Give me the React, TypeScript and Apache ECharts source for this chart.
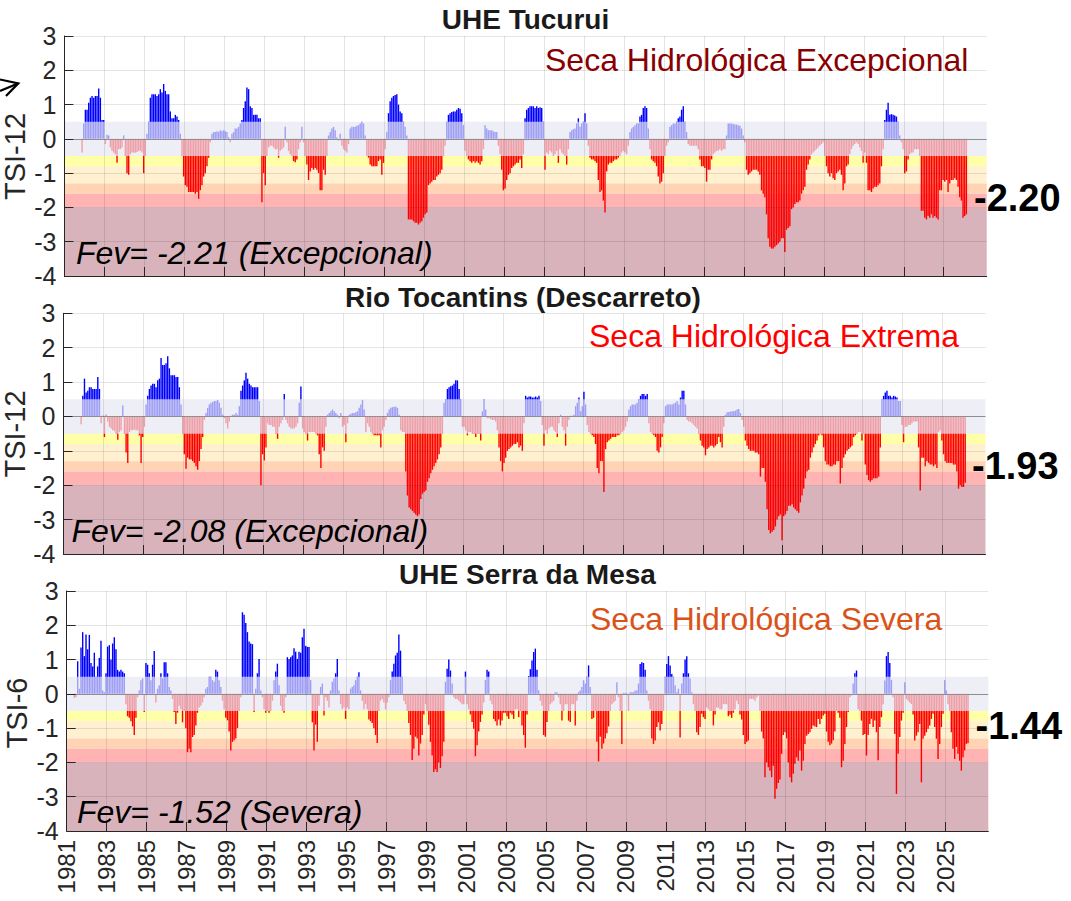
import React, { useEffect, useRef } from 'react';
import * as echarts from 'echarts';

const START_YEAR = 1981;
const YEAR_TICKS = [1981, 1983, 1985, 1987, 1989, 1991, 1993, 1995, 1997, 1999, 2001, 2003, 2005, 2007, 2009, 2011, 2013, 2015, 2017, 2019, 2021, 2023, 2025];
const Y_MIN = -4;
const Y_MAX = 3;

// Monthly TSI values, Jan 1981 .. Feb 2026 (null = not available)
const tucurui: (number | null)[] = [
  null, null, null, null, null, null, null, null, null, null, -0.4, 0.45,
  0.85, 0.85, 1.05, 1.2, 1.25, 1.2, 1.25, 1.25, 1.47, 1.2, 0.55, 0.55,
  -0.15, 0.12, 0.1, -0.25, -0.35, -0.4, -0.45, -0.7, -0.3, -0.3, -0.25, 0.1,
  -0.5, -1.0, -1.05, -0.45, -0.4, -0.4, -0.4, -0.38, -0.35, -0.35, -0.4, -1.0,
  -0.5, 0.15, 0.5, 1.2, 1.3, 1.3, 1.3, 1.25, 1.3, 1.45, 1.35, 1.6,
  1.4, 1.3, 1.3, 0.8, 0.6, 0.6, 0.7, 0.65, 0.55, 0.15, -0.5, -1.1,
  -1.35, -1.4, -1.55, -1.55, -1.55, -1.55, -1.6, -1.55, -1.75, -1.5, -1.35, -1.1,
  -1.0, -0.8, -0.55, -0.1, 0.15, 0.2, 0.2, 0.22, 0.2, 0.25, 0.22, 0.25,
  0.22, 0.2, 0.05, -0.1, 0.15, 0.2, 0.3, 0.3, 0.35, 0.45, 0.55, 0.9,
  1.1, 1.5, 1.45, 0.95, 0.9, 0.7, 0.7, 0.7, 0.6, 0.6, -1.85, -1.0,
  -1.35, -0.5, -0.25, -0.2, -0.2, -0.25, -0.3, -0.3, -0.55, -0.35, -0.3, -0.25,
  0.35, -0.1, -0.35, -0.45, -0.5, -0.65, -0.68, -0.6, -0.3, -0.1, 0.35, -0.1,
  -0.5, -0.75, -1.2, -0.95, -0.85, -0.9, -0.85, -0.9, -1.0, -1.5, -1.5, -0.9,
  -1.05, -0.5, 0.1, 0.2, 0.3, 0.35, 0.25, 0.05, -0.05, 0.15, -0.2, -0.3,
  -0.35, -0.4, -0.15, 0.3, 0.35, 0.35, 0.35, 0.38, 0.4, 0.45, 0.5, 0.45,
  0.1, -0.5, -0.55, -0.75, -0.8, -0.8, -0.8, -0.8, -0.65, -0.6, -1.05, -0.7,
  -0.3, 0.2, 0.75, 1.1, 1.2, 1.25, 1.28, 1.3, 1.0, 0.8, 0.75, 0.5,
  0.35, 0.1, -2.35, -2.35, -2.35, -2.4, -2.45, -2.45, -2.5, -2.45, -2.4, -2.3,
  -2.2, -2.15, -1.35, -1.3, -1.25, -1.2, -1.2, -1.1, -1.05, -1.0, -0.9, -0.5,
  -0.2, 0.5, 0.7, 0.75, 0.78, 0.8, 0.8, 0.85, 0.9, 0.88, 0.75, 0.4,
  -0.35, -0.5, -0.6, -0.65, -0.7, -0.65, -0.7, -0.65, -0.7, -0.75, -0.65, -0.3,
  0.4, 0.3, 0.25, 0.25, 0.25, 0.22, 0.2, 0.2, -0.2, -0.45, -0.9, -1.5,
  -1.45, -1.2, -1.05, -1.0, -0.85, -0.8, -0.75, -0.7, -0.7, -0.6, -0.85, -0.45,
  0.6, 0.85, 0.9, 0.95, 0.95, 0.95, 0.9, 0.95, 0.9, 0.92, 0.9, 0.5,
  -0.9, -0.4, -0.45, -0.35, -0.4, -0.5, -0.45, -0.35, -0.7, -0.3, -0.4, -0.45,
  -0.5, -0.75, -0.3, 0.2, 0.25, 0.28, 0.3, 0.45, 0.6, 0.35, 0.45, 0.5,
  0.75, 0.45, -0.2, -0.55, -0.6, -0.6, -0.65, -0.7, -1.2, -1.55, -1.5, -1.8,
  -2.15, -0.95, -0.75, -0.7, -0.7, -0.65, -0.6, -0.6, -0.55, -0.5, -0.4, -0.35,
  -0.4, -0.45, -0.2, 0.2, 0.3, 0.35, 0.4, 0.45, 0.45, 0.65, 0.7, 0.9,
  0.95, 0.9, 0.3, -0.3, -0.6, -0.65, -0.7, -0.8, -1.1, -1.3, -1.25, -1.0,
  -0.5, -0.2, -0.1, 0.35, 0.4, 0.45, 0.45, 0.5, 0.6, 0.65, 0.85, 0.95,
  0.5, 0.2, -0.15, -0.2, -0.2, -0.2, -0.2, -0.2, -0.3, -0.6, -0.8, -0.8,
  -0.85, -1.25, -0.9, -0.9, -0.6, -0.45, -0.4, -0.35, -0.35, -0.3, -0.35, -0.3,
  -0.3, 0.1, 0.45, 0.45, 0.45, 0.43, 0.42, 0.42, 0.4, 0.38, 0.3, 0.1,
  -0.1, -0.9, -1.05, -1.0, -0.95, -0.9, -0.9, -0.9, -0.95, -1.05, -1.5, -1.6,
  -1.7, -2.2, -2.9, -3.15, -3.2, -3.2, -3.15, -3.1, -3.05, -3.0, -2.9, -2.9,
  -3.3, -2.65, -2.6, -2.55, -2.05, -2.0, -1.9, -1.85, -1.85, -1.8, -1.6, -1.5,
  -1.4, -0.9, -0.75, -0.6, -0.45, -0.4, -0.35, -0.3, -0.25, -0.2, -0.15, -0.1,
  -0.5, -0.8, -1.0, -1.1, -1.0, -1.15, -1.2, -1.0, -0.95, -0.9, -1.05, -1.5,
  -1.3, -0.8, -0.75, -0.45, -0.3, -0.2, -0.15, -0.1, -0.15, -0.25, -0.35, -0.7,
  -0.4, -0.7, -1.5, -1.5, -1.55, -1.45, -1.4, -1.4, -1.35, -1.3, -0.8, -0.3,
  0.55, 0.85, 1.05, 0.7, 0.72, 0.7, 0.68, 0.65, 0.5, 0.1, -0.1, -0.3,
  -1.0, -0.95, -0.6, -0.45, -0.4, -0.4, -0.3, -0.3, -0.3, -0.5, -2.1, -2.1,
  -2.3, -2.35, -2.25, -2.3, -2.2, -2.3, -2.25, -2.3, -2.35, -1.5, -1.5, -1.2,
  -1.25, -1.2, -1.55, -1.3, -1.2, -1.2, -1.15, -1.2, -1.4, -1.7, -1.8, -2.3,
  -2.25, -2.2,
];

const tocantins: (number | null)[] = [
  null, null, null, null, null, null, null, null, null, null, -0.23, 0.6,
  1.1, 0.7, 0.75, 0.85, 0.85, 0.8, 0.8, 0.8, 1.15, 0.8, -0.2, 0.03,
  -0.6, 0.06, -0.15, -0.3, -0.35, -0.4, -0.42, -0.5, -0.68, -0.45, -0.4, 0.32,
  -0.5, -1.05, -1.35, -0.45, -0.4, -0.4, -0.38, -0.4, -0.4, -0.55, -1.35, -0.6,
  -0.3, 0.35, 0.6, 0.8, 0.9, 0.95, 0.95, 0.85, 1.05, 1.1, 1.7, 1.5,
  1.5, 1.55, 1.75, 1.4, 1.2, 1.2, 1.2, 1.15, 1.15, 0.85, 0.35, -0.5,
  -1.1, -1.52, -1.2, -1.25, -1.25, -1.3, -1.35, -1.45, -1.55, -1.3, -0.95, -0.6,
  -0.1, 0.1, 0.25, 0.35, 0.4, 0.42, 0.45, 0.45, 0.48, 0.4, 0.25, 0.05,
  -0.05, -0.2, -0.35, -0.15, 0.02, 0.05, 0.05, 0.1, 0.05, 0.3, 0.75, 0.9,
  1.05, 1.27, 1.1, 0.95, 0.9, 0.85, 0.85, 0.85, 0.85, 0.45, -2.0, -1.1,
  -1.28, -0.9, -0.2, -0.25, -0.25, -0.3, -0.3, -0.5, -0.65, -0.3, -0.2, -0.1,
  0.65, -0.1, -0.2, -0.3, -0.35, -0.35, -0.35, -0.3, -0.2, 0.4, 0.87, -0.35,
  -0.45, -0.5, -0.7, -0.45, -0.45, -0.45, -0.45, -0.5, -0.55, -1.1, -1.5, -0.9,
  -1.0, -0.3, 0.05, 0.1, 0.15, 0.2, 0.15, 0.1, 0.05, -0.05, 0.1, -0.3,
  -0.25, -0.75, -0.2, 0.05, 0.08, 0.1, 0.1, 0.12, 0.15, 0.25, 0.35, 0.48,
  0.2, -0.45, -0.2, -0.3, -0.45, -0.5, -0.55, -0.55, -0.55, -0.55, -0.9, -0.4,
  -0.3, -0.1, 0.1, 0.2, 0.25, 0.27, 0.28, 0.28, 0.25, 0.05, -0.4, -0.45,
  -0.45, -1.6, -2.3, -2.65, -2.7, -2.75, -2.8, -2.85, -2.9, -2.85, -2.4, -2.25,
  -2.2, -2.15, -1.9, -1.8, -1.65, -1.55, -1.45, -1.35, -1.25, -1.1, -0.9, -0.5,
  0.4, 0.5, 0.8, 0.85, 0.88, 0.9, 0.95, 1.05, 1.05, 0.8, 0.5, -0.3,
  -0.3, -0.4, -0.55, -0.45, -0.45, -0.5, -0.5, -0.6, -0.5, -0.5, -0.7, 0.15,
  0.5, 0.2, -0.05, -0.05, -0.08, -0.1, -0.1, -0.15, -0.4, -0.9, -1.3, -1.6,
  -1.35, -1.2, -1.0, -0.95, -0.9, -0.85, -0.8, -0.8, -0.75, -0.9, -0.85, -1.0,
  -0.2, 0.6, 0.55, 0.58, 0.58, 0.55, 0.55, 0.58, 0.55, 0.6, 0.45, -0.25,
  -0.85, -0.4, -0.5, -0.35, -0.3, -0.3, -0.4, -0.45, -0.6, -0.2, 0.05, -0.3,
  -0.4, -0.85, -0.3, -0.1, 0.02, 0.02, 0.05, 0.3, 0.4, 0.55, 0.15, 0.3,
  0.72, 0.35, -0.25, -0.45, -0.5, -0.55, -0.6, -0.8, -1.5, -1.65, -1.3, -1.3,
  -2.2, -0.95, -0.75, -0.7, -0.65, -0.6, -0.6, -0.6, -0.55, -0.55, -0.5, -0.45,
  -0.4, -0.3, -0.15, 0.2, 0.3, 0.35, 0.35, 0.35, 0.4, 0.5, 0.6, 0.65,
  0.65, 0.6, 0.65, -0.2, -0.45, -0.5, -0.55, -0.6, -1.0, -1.05, -0.9, -0.6,
  -0.2, 0.3, 0.35, 0.35, 0.35, 0.35, 0.38, 0.4, 0.45, 0.35, 0.55, 0.75,
  0.75, 0.35, -0.1, -0.15, -0.15, -0.2, -0.25, -0.3, -0.35, -0.5, -0.7, -0.85,
  -0.9, -1.13, -0.95, -0.9, -0.85, -0.85, -0.9, -0.85, -0.8, -0.6, -0.75, -0.9,
  -0.3, 0.05, 0.12, 0.13, 0.14, 0.15, 0.15, 0.17, 0.2, 0.22, 0.1, -0.1,
  -0.3, -0.7, -0.85, -0.95, -1.0, -1.0, -1.0, -1.05, -1.05, -1.1, -1.75, -1.5,
  -1.5, -1.9, -2.7, -3.3, -3.4, -3.35, -3.3, -3.2, -3.0, -2.9, -2.85, -3.6,
  -2.9, -2.85, -2.75, -2.6, -2.6, -2.55, -2.65, -2.7, -2.75, -2.8, -2.5, -2.3,
  -2.1, -1.8, -1.6, -1.55, -1.2, -1.05, -0.9, -0.8, -0.7, -0.55, -0.5, -0.55,
  -0.9, -1.3, -1.4, -1.4, -1.45, -1.45, -1.4, -1.4, -1.3, -1.3, -1.95, -1.5,
  -1.2, -1.1, -1.0, -0.95, -0.9, -0.85, -0.6, -0.55, -0.5, -0.45, -0.45, -0.7,
  -0.5, -1.4, -1.7, -1.85, -1.9, -1.85, -1.8, -1.8, -1.8, -1.75, -0.9, 0.5,
  0.6, 0.7, 0.75, 0.6, 0.6, 0.55, 0.6, 0.58, 0.55, 0.45, 0.45, -0.25,
  -0.75, -0.3, -0.3, -0.25, -0.25, -0.2, -0.15, -0.15, -0.15, -0.9, -2.15, -1.2,
  -1.2, -1.45, -1.3, -1.35, -1.4, -1.4, -1.45, -1.4, -1.5, -0.45, -0.4, -0.7,
  -1.1, -1.3, -1.35, -1.35, -1.35, -1.35, -1.4, -1.4, -1.6, -2.1, -2.0, -2.05,
  -2.05, -1.93,
];

const serraMesa: (number | null)[] = [
  null, null, null, null, -0.12, -0.1, 0.95, 0.15, 1.35, 1.8, 1.1, 1.73,
  1.3, 1.72, 0.9, 0.8, 1.2, 0.5, 0.8, 1.05, 1.55, 0.1, 0.05, 0.6,
  1.38, 1.42, 1.0, 1.47, 1.65, 1.3, 0.7, 0.65, 0.7, 0.65, 0.6, -0.3,
  -0.65, -0.7, -0.8, -0.95, -1.2, -0.7, -0.1, 0.1, 0.4, 0.45, -0.53, 0.9,
  0.85, 0.6, 0.4, 0.85, 1.25, -0.25, 0.15, 0.25, 0.6, 0.45, 0.92, 0.92,
  0.6, 0.2, 0.1, -0.15, -0.53, -0.88, -0.55, -0.35, -0.45, -0.83, -0.5, -1.0,
  -1.7, -1.6, -1.7, -1.26, -1.2, -0.92, -0.55, -0.4, -0.35, -0.25, -0.1, 0.15,
  0.2, 0.5, 0.5, 0.4, 0.35, 0.7, 0.65, 0.4, 0.2, -0.2, -0.45, -0.7,
  -0.77, -1.1, -1.65, -1.4, -1.35, -1.3, -1.0, -0.5, -0.1, 2.38, 2.31, 2.07,
  1.8, 1.53, 1.47, 1.45, -0.53, 0.15, 0.6, 1.02, 0.1, -0.1, -0.45, -0.55,
  -0.5, -0.55, -0.5, -0.2, 0.4, 0.65, 0.88, 0.25, -0.35, -0.5, -0.55, -0.1,
  1.07, 1.02, 1.07, 1.12, 1.33, 1.23, 1.02, 1.23, 1.2, 1.65, 1.9, 1.4,
  1.37, 1.37, 0.4, -0.83, -1.65, -0.9, -1.4, -0.35, 0.2, 0.3, -0.63, -0.1,
  -0.2, -0.4, 0.1, 0.35, 0.45, 0.6, 1.02, 0.1, -0.3, -0.45, -0.4, -0.73,
  -0.4, -0.45, 0.15, 0.2, 0.25, 0.4, 0.5, 0.63, 0.1, -0.2, -0.45, -0.3,
  -0.45, -0.75, -0.8, -0.85, -1.0, -1.2, -1.43, -0.5, -0.2, -0.15, -0.25, -0.45,
  -0.25, -0.1, 0.4, 0.65, 0.88, 1.12, 1.2, 1.73, 1.26, 0.5, -0.2, -0.3,
  -0.5, -0.85, -1.2, -1.93, -1.6, -1.25, -1.3, -1.8, -1.45, -1.2, -0.6, -0.3,
  -0.5, -0.9, -1.4, -1.8, -2.28, -2.2, -2.28, -2.0, -2.16, -1.82, -1.4, 0.35,
  0.73, 1.0, 0.68, 0.3, -0.1, -0.15, -0.15, -0.2, -0.25, -0.3, -0.3, 0.65,
  -0.3, -0.45, -0.6, -0.82, -1.02, -1.82, -1.5, -1.1, -0.82, -0.6, -0.25, 0.4,
  0.7, 0.65, -0.2, -0.3, -0.73, -0.8, -0.92, -0.75, -0.92, -0.78, -0.55, -0.55,
  -0.65, -0.73, -0.55, -0.6, -0.73, -0.45, -0.45, -0.68, -0.5, -0.92, -1.2, -1.57,
  -0.6, 0.52, 0.72, 0.97, 1.22, 1.32, 0.7, 0.1, -0.2, -0.35, -1.2, -1.25,
  -0.82, -0.5, -0.3, -0.25, -0.2, 0.05, 0.05, -0.1, -0.3, -0.78, -0.5, -0.3,
  -0.3, -0.78, -0.82, -0.3, -0.3, -0.92, -0.2, 0.05, 0.1, 0.2, 0.4, 0.3,
  0.5, 0.83, 0.2, -0.73, -0.7, -0.5, -1.4, -1.97, -1.25, -1.6, -1.45, -1.3,
  -1.15, -0.95, -0.5, -0.3, -0.25, -0.2, 0.34, -0.1, -0.5, -1.46, 0.03, 0.03,
  0.02, -0.5, 0.05, 0.05, 0.05, 0.1, 0.1, 0.3, 0.87, 0.92, 0.9, 0.7,
  0.1, -0.2, -0.45, -1.3, -1.46, -1.36, -0.97, -0.83, -1.07, -0.88, -0.5, 0.5,
  0.87, 1.1, 0.83, 0.58, 0.5, 0.25, 0.05, 0.15, -1.27, 0.3, 0.6, 1.0,
  1.1, 0.6, 0.45, 0.05, -0.3, -0.5, -1.12, -1.2, -0.97, -0.58, -0.68, -0.73,
  -0.4, -0.45, -0.5, -0.5, -0.92, -0.6, -0.4, -0.4, -0.45, -0.45, -0.3, -0.3,
  -0.3, -0.65, -0.6, -0.7, -0.55, -0.45, -0.2, -0.3, -0.6, -0.75, -1.2, -1.46,
  -1.4, -1.36, -0.15, -0.15, -0.15, -0.2, -0.1, -0.05, -0.5, -1.1, -1.3, -2.43,
  -2.0, -2.14, -2.24, -2.43, -2.1, -3.06, -2.77, -2.6, -2.5, -1.75, -1.2, -1.12,
  -1.3, -2.0, -2.43, -2.58, -2.33, -2.04, -1.85, -1.95, -1.65, -2.24, -1.95, -1.46,
  -1.22, -1.17, -1.12, -1.02, -0.92, -0.95, -0.97, -0.73, -0.88, -0.73, -0.63, -0.58,
  -1.1, -1.4, -1.5, -1.45, -1.35, -1.1, -0.5, -0.55, -0.7, -2.14, -1.95, -1.46,
  -0.97, -0.53, -0.1, -0.05, 0.3, 0.6, 0.68, -0.45, -0.5, -0.78, -1.2, -1.17,
  -1.8, -1.2, -0.88, -0.73, -0.97, -0.78, -1.12, -1.94, -0.97, -0.68, -0.3, 0.39,
  1.1, 1.22, 0.9, 0.4, -0.1, -1.17, -2.92, -1.75, -1.26, -0.78, -0.55, 0.34,
  -0.15, -0.2, -0.25, -0.3, -0.6, -1.36, -1.22, -1.12, -0.88, -2.58, -1.31, -1.22,
  -1.12, -1.02, -0.92, -0.73, -0.58, -0.97, -1.31, -1.9, -1.46, -0.97, -0.58, 0.4,
  0.1, -0.3, -0.49, -1.12, -1.6, -1.9, -1.55, -1.75, -1.95, -2.24, -1.85, -1.65,
  -1.46, -1.44,
];

const panelSeries = [tucurui, tocantins, serraMesa];
const panelTitles = ['UHE Tucurui', 'Rio Tocantins (Descarreto)', 'UHE Serra da Mesa'];
const indexNames = ['TSI-12', 'TSI-12', 'TSI-6'];
const droughtLabels = ['Seca Hidrológica Excepcional', 'Seca Hidrológica Extrema', 'Seca Hidrológica Severa'];
const droughtColors = ['#880000', '#ff0000', '#d95319'];
const fevLabels = ['Fev= -2.21 (Excepcional)', 'Fev= -2.08 (Excepcional)', 'Fev= -1.52 (Severa)'];
const lastLabels = ['-2.20', '-1.93', '-1.44'];

// Drought severity bands (upper, lower, colour)
const bandEdges = [-0.5, -0.8, -1.3, -1.6, -2.0, -4];
const bandColors = ['#ffffa8', '#fff0cf', '#ffd3b3', '#ffb3b3', '#d9b3bb'];

const FONT = '"Liberation Sans", Arial, Helvetica, sans-serif';

const grids = [
  { left: 64.4, top: 36, width: 922.3, height: 240 },
  { left: 63.5, top: 313.3, width: 922, height: 240.7 },
  { left: 66.7, top: 591, width: 921.6, height: 240 },
];

const titlePos = [[525.5, 19.5], [523, 297], [527.5, 574.5]];
const droughtPos = [[545, 60], [589, 336], [590, 619]];
const fevPos = [[76, 253], [71.5, 531], [77, 811.5]];
const lastPos = [[974, 198], [972, 466], [975.5, 726]];
const yNamePos = [[14.5, 156.5], [14.5, 434], [17, 713]];

function toPoints(values: (number | null)[]) {
  const out: [number, number][] = [];
  values.forEach((v, i) => {
    if (v !== null) out.push([START_YEAR + (i + 0.6) / 12, v]);
  });
  return out;
}

export default function App() {
  const ref = useRef<HTMLDivElement>(null);

  useEffect(() => {
    if (!ref.current) return;
    const chart = echarts.init(ref.current, undefined, { renderer: 'svg' });

    const series: any[] = [];
    grids.forEach((_, k) => {
      series.push({
        type: 'line',
        xAxisIndex: k,
        yAxisIndex: k,
        data: [],
        silent: true,
        markArea: {
          silent: true,
          z: 1,
          data: bandColors.map((c, j) => [
            { yAxis: bandEdges[j], itemStyle: { color: c } },
            { yAxis: bandEdges[j + 1] },
          ]),
        },
      });
      series.push({
        type: 'bar',
        xAxisIndex: k,
        yAxisIndex: k,
        data: toPoints(panelSeries[k]),
        barWidth: 1.4,
        silent: true,
        z: 2,
        itemStyle: {
          color: (p: any) => (p.value[1] >= 0 ? '#0000ff' : '#ff0000'),
        },
      });
      series.push({
        type: 'line',
        xAxisIndex: k,
        yAxisIndex: k,
        data: [],
        silent: true,
        markArea: {
          silent: true,
          z: 3,
          itemStyle: { color: 'rgba(230,230,242,0.69)' },
          data: [[{ yAxis: -0.5 }, { yAxis: 0.5 }]],
        },
        markLine: {
          silent: true,
          z: 4,
          symbol: 'none',
          label: { show: false },
          lineStyle: { color: '#a0a0a0', width: 1, type: 'solid' },
          data: [{ yAxis: 0 }],
        },
      });
    });

    const graphic: any[] = [];
    for (let k = 0; k < 3; k++) {
      graphic.push({
        type: 'text', x: titlePos[k][0], y: titlePos[k][1], z: 10,
        style: { text: panelTitles[k], fill: '#1a1a1a', fontFamily: FONT, fontSize: 28, fontWeight: 'bold', align: 'center', verticalAlign: 'middle' },
      });
      graphic.push({
        type: 'text', x: droughtPos[k][0], y: droughtPos[k][1], z: 10,
        style: { text: droughtLabels[k], fill: droughtColors[k], fontFamily: FONT, fontSize: 32, align: 'left', verticalAlign: 'middle' },
      });
      graphic.push({
        type: 'text', x: fevPos[k][0], y: fevPos[k][1], z: 10,
        style: { text: fevLabels[k], fill: '#000000', fontFamily: FONT, fontSize: 32, fontStyle: 'italic', align: 'left', verticalAlign: 'middle' },
      });
      graphic.push({
        type: 'text', x: lastPos[k][0], y: lastPos[k][1], z: 10,
        style: { text: lastLabels[k], fill: '#000000', fontFamily: FONT, fontSize: 38, fontWeight: 'bold', align: 'left', verticalAlign: 'middle' },
      });
      graphic.push({
        type: 'text', x: yNamePos[k][0], y: yNamePos[k][1], rotation: Math.PI / 2, z: 10,
        style: { text: indexNames[k], fill: '#262626', fontFamily: FONT, fontSize: 29, align: 'center', verticalAlign: 'middle' },
      });
    }
    graphic.push({
      type: 'polyline', z: 10,
      shape: { points: [[0, 79.5], [18.3, 83.3], [6, 96]] },
      style: { stroke: '#000', lineWidth: 2.2, fill: 'none' },
    });
    graphic.push({
      type: 'line', z: 10,
      shape: { x1: 0, y1: 91, x2: 18, y2: 83.5 },
      style: { stroke: '#000', lineWidth: 2.2 },
    });

    const option: any = {
      animation: false,
      grid: grids.map((g) => ({ ...g, containLabel: false })),
      xAxis: grids.map((_, k) => ({
        gridIndex: k,
        type: 'value',
        min: 1981,
        max: 2027.15,
        interval: 2,
        z: 6,
        axisLine: { show: true, onZero: false, lineStyle: { color: '#262626', width: 1 } },
        axisTick: { show: true, inside: true, length: 9, customValues: YEAR_TICKS, lineStyle: { color: '#262626' } },
        axisLabel: {
          show: k === 2,
          customValues: YEAR_TICKS,
          rotate: 90,
          fontSize: 24,
          fontFamily: FONT,
          color: '#262626',
          margin: 9,
          formatter: (v: number) => String(v),
        },
        splitLine: { show: true, lineStyle: { color: 'rgba(0,0,0,0.1)', width: 1 } },
      })),
      yAxis: grids.map((_, k) => ({
        gridIndex: k,
        type: 'value',
        min: Y_MIN,
        max: Y_MAX,
        interval: 1,
        z: 6,
        axisLine: { show: true, onZero: false, lineStyle: { color: '#262626', width: 1 } },
        axisTick: { show: true, inside: true, length: 9, lineStyle: { color: '#262626' } },
        axisLabel: { fontSize: 25, fontFamily: FONT, color: '#262626', margin: 8 },
        splitLine: { show: true, lineStyle: { color: 'rgba(0,0,0,0.1)', width: 1 } },
      })),
      series,
      graphic,
    };

    chart.setOption(option);
    return () => chart.dispose();
  }, []);

  return (
    <div
      ref={ref}
      style={{ position: 'fixed', left: 0, top: 0, width: 1071, height: 901, background: '#ffffff' }}
    />
  );
}
